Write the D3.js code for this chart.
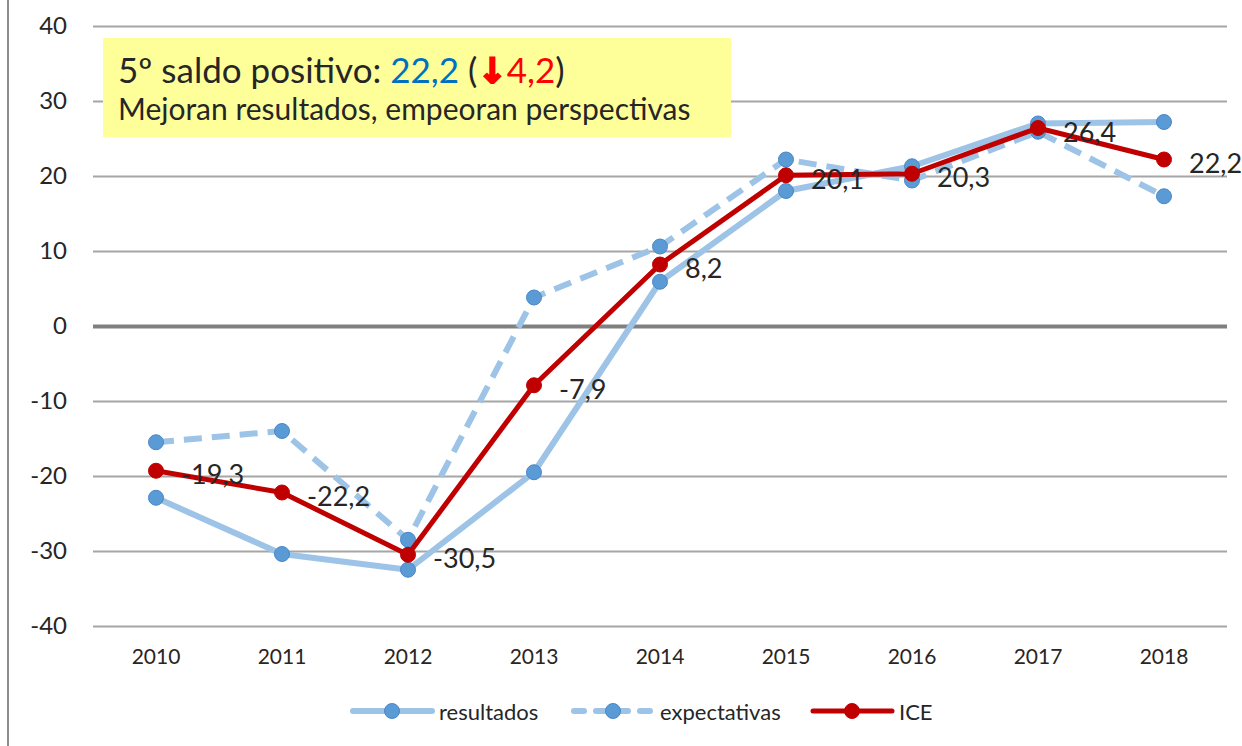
<!DOCTYPE html>
<html>
<head>
<meta charset="utf-8">
<script src="https://cdn.jsdelivr.net/npm/d3@7"></script>
<style>
  body { margin: 0; background: #fff; }
  text { font-family: Lato, "Open Sans", sans-serif; fill: #262626; }
</style>
</head>
<body>
<svg width="1242" height="746"></svg>
<script>
const years = ['2010','2011','2012','2013','2014','2015','2016','2017','2018'];
const resultados = [-22.9, -30.4, -32.5, -19.5, 5.9, 18.0, 21.3, 27.0, 27.2];
const expectativas = [-15.5, -14.0, -28.5, 3.8, 10.6, 22.2, 19.4, 25.9, 17.3];
const ice = [-19.3, -22.2, -30.5, -7.9, 8.2, 20.1, 20.3, 26.4, 22.2];
const yTicks = [-40, -30, -20, -10, 0, 10, 20, 30, 40];

const svg = d3.select('svg');
const plotLeft = 93, plotRight = 1227, plotTop = 26, plotBottom = 626;

const x = d3.scaleBand().domain(years).range([plotLeft, plotRight]);
const y = d3.scaleLinear().domain([-40, 40]).range([plotBottom, plotTop]);
const cx = d => x(d) + x.bandwidth() / 2;

const es = d3.formatLocale({decimal: ',', thousands: '.', grouping: [3], currency: ['', '€'], minus: '-'});
const fmt = es.format('.1f');

// left border of the frame
svg.append('line')
    .attr('x1', 8).attr('x2', 8).attr('y1', 0).attr('y2', 746)
    .attr('stroke', '#8c8c8c').attr('stroke-width', 2);

// y axis with gridlines
const yaxis = svg.append('g')
    .attr('transform', 'translate(' + plotLeft + ',0)')
    .call(d3.axisLeft(y).tickValues(yTicks).tickSize(-(plotRight - plotLeft)).tickPadding(26).tickFormat(es.format('d')));
yaxis.select('.domain').remove();
yaxis.selectAll('line')
    .attr('stroke', d => d === 0 ? '#808080' : '#a6a6a6')
    .attr('stroke-width', d => d === 0 ? 4 : 2);
yaxis.selectAll('text').attr('font-size', 24).attr('fill', '#262626')
    .style('font-family', 'Lato, sans-serif');

// x axis
const xaxis = svg.append('g')
    .attr('transform', 'translate(0,' + plotBottom + ')')
    .call(d3.axisBottom(x).tickSize(0));
xaxis.select('.domain').remove();
xaxis.selectAll('text').attr('y', 38).attr('dy', null).attr('font-size', 21)
    .attr('fill', '#262626').style('font-family', 'Lato, sans-serif');

const series = [
    {name: 'resultados', values: resultados, line: '#9dc3e6', dot: '#5b9bd5', dotStroke: '#4a86c8', width: 6, dash: null},
    {name: 'expectativas', values: expectativas, line: '#9dc3e6', dot: '#5b9bd5', dotStroke: '#4a86c8', width: 6, dash: '18,10'},
    {name: 'ICE', values: ice, line: '#c00000', dot: '#c00000', dotStroke: '#c00000', width: 5, dash: null}
];

const line = d3.line().x(d => cx(d.year)).y(d => y(d.v));

series.forEach(s => {
    const pts = years.map((yr, i) => ({year: yr, v: s.values[i]}));
    svg.append('path')
        .datum(pts)
        .attr('d', line)
        .attr('fill', 'none')
        .attr('stroke', s.line)
        .attr('stroke-width', s.width)
        .attr('stroke-linejoin', 'round')
        .attr('stroke-dasharray', s.dash);
    svg.append('g').selectAll('circle')
        .data(pts)
        .enter()
        .append('circle')
        .attr('cx', d => cx(d.year))
        .attr('cy', d => y(d.v))
        .attr('r', 7.5)
        .attr('fill', s.dot)
        .attr('stroke', s.dotStroke)
        .attr('stroke-width', 1);
});

// ICE data labels
svg.append('g').selectAll('text')
    .data(years.map((yr, i) => ({year: yr, v: ice[i]})))
    .enter()
    .append('text')
    .attr('x', d => cx(d.year) + 25)
    .attr('y', d => y(d.v) + 3)
    .attr('dominant-baseline', 'central')
    .attr('font-size', 27)
    .attr('fill', '#1a1a1a')
    .text(d => fmt(d.v));

// legend
const legendX = [353, 574, 813];
const legend = svg.append('g');
series.forEach((s, i) => {
    const g = legend.append('g').attr('transform', 'translate(' + legendX[i] + ',711)');
    g.append('line')
        .attr('x1', 0).attr('x2', 79)
        .attr('stroke', s.line).attr('stroke-width', s.width)
        .attr('stroke-linecap', 'round')
        .attr('stroke-dasharray', s.dash ? '10,12' : null);
    g.append('circle').attr('cx', 39).attr('r', 7.5)
        .attr('fill', s.dot).attr('stroke', s.dotStroke);
    g.append('text').attr('x', 86).attr('dominant-baseline', 'central')
        .attr('font-size', 22).attr('fill', '#262626').text(s.name);
});

// annotation box
svg.append('rect')
    .attr('x', 103).attr('y', 38).attr('width', 628).attr('height', 99)
    .attr('fill', '#ffff99');
const t1 = svg.append('text').attr('x', 118).attr('y', 83).attr('font-size', 35).attr('fill', '#000');
t1.append('tspan').text('5º saldo positivo: ');
t1.append('tspan').attr('fill', '#0070c0').text('22,2');
t1.append('tspan').text(' (');
t1.append('tspan').attr('fill', '#ff0000').attr('font-weight', 'bold')
    .style('font-family', '"DejaVu Sans", sans-serif')
    .attr('stroke', '#ff0000').attr('stroke-width', 2).text('↓');
t1.append('tspan').attr('fill', '#ff0000').text('4,2');
t1.append('tspan').text(')');
svg.append('text').attr('x', 118).attr('y', 120).attr('font-size', 30).attr('fill', '#000')
    .text('Mejoran resultados, empeoran perspectivas');
</script>
</body>
</html>
